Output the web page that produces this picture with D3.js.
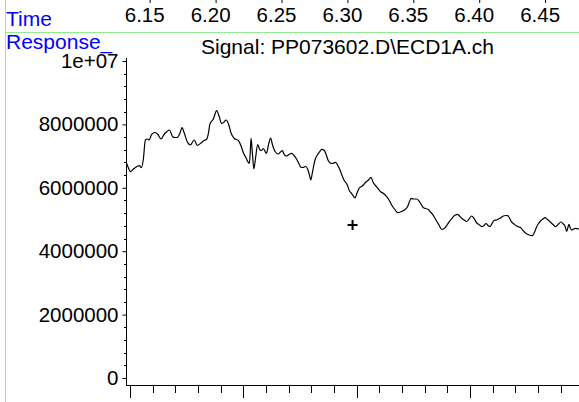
<!DOCTYPE html>
<html lang="en">
<head>
<meta charset="utf-8">
<title>ECD signal</title>
<script src="https://d3js.org/d3.v7.min.js"></script>
<style>
  body { margin: 0; background: #fff; }
  svg { display: block; font-family: "Liberation Sans", Arial, sans-serif; }
</style>
</head>
<body>
<div id="chart"></div>
<script>
// retention time (min) and detector response
var times = [6.1358, 6.1373, 6.1392, 6.1414, 6.1439, 6.1459, 6.1474, 6.1489, 6.1505, 6.1520,
  6.1533, 6.1553, 6.1578, 6.1599, 6.1624, 6.1649, 6.1669, 6.1688, 6.1712, 6.1730,
  6.1747, 6.1768, 6.1783, 6.1800, 6.1826, 6.1848, 6.1863, 6.1876, 6.1899, 6.1927,
  6.1950, 6.1970, 6.1984, 6.1995, 6.2021, 6.2046, 6.2064, 6.2084, 6.2102, 6.2117,
  6.2136, 6.2155, 6.2180, 6.2210, 6.2231, 6.2248, 6.2269, 6.2294, 6.2301, 6.2307,
  6.2318, 6.2328, 6.2341, 6.2357, 6.2375, 6.2386, 6.2400, 6.2423, 6.2439, 6.2455,
  6.2470, 6.2489, 6.2514, 6.2530, 6.2544, 6.2557, 6.2572, 6.2595, 6.2615, 6.2633,
  6.2652, 6.2668, 6.2686, 6.2701, 6.2720, 6.2737, 6.2750, 6.2760, 6.2773, 6.2792,
  6.2810, 6.2826, 6.2843, 6.2863, 6.2878, 6.2893, 6.2908, 6.2923, 6.2949, 6.2967,
  6.2982, 6.2997, 6.3012, 6.3037, 6.3052, 6.3073, 6.3096, 6.3111, 6.3128, 6.3145,
  6.3159, 6.3179, 6.3198, 6.3217, 6.3232, 6.3253, 6.3270, 6.3288, 6.3312, 6.3336,
  6.3354, 6.3374, 6.3395, 6.3420, 6.3441, 6.3470, 6.3495, 6.3508, 6.3521, 6.3539,
  6.3564, 6.3581, 6.3596, 6.3615, 6.3631, 6.3652, 6.3668, 6.3682, 6.3699, 6.3714,
  6.3733, 6.3753, 6.3767, 6.3778, 6.3794, 6.3811, 6.3828, 6.3841, 6.3857, 6.3872,
  6.3889, 6.3905, 6.3923, 6.3943, 6.3961, 6.3981, 6.3999, 6.4019, 6.4036, 6.4057,
  6.4074, 6.4090, 6.4105, 6.4120, 6.4135, 6.4150, 6.4169, 6.4196, 6.4221, 6.4238,
  6.4254, 6.4268, 6.4282, 6.4302, 6.4322, 6.4340, 6.4351, 6.4370, 6.4391, 6.4412,
  6.4441, 6.4458, 6.4474, 6.4488, 6.4503, 6.4522, 6.4537, 6.4556, 6.4575, 6.4598,
  6.4618, 6.4636, 6.4659, 6.4676, 6.4689, 6.4702, 6.4712, 6.4719, 6.4729, 6.4740,
  6.4753, 6.4770, 6.4790, 6.4803]

var response = [6823000, 6666000, 6508000, 6593000, 6666000, 6697000, 6634000, 6877000, 7508000, 7540000,
  7508000, 7688000, 7745000, 7688000, 7540000, 7697000, 7776000, 7823000, 7612000, 7587000,
  7587000, 7729000, 7896000, 7729000, 7423000, 7350000, 7445000, 7508000, 7334000, 7413000,
  7492000, 7530000, 7729000, 8013000, 8170000, 8432000, 8265000, 8028000, 8076000, 8139000,
  8013000, 7729000, 7555000, 7492000, 7319000, 7114000, 6940000, 6773000, 7129000, 7562000,
  7035000, 6593000, 6940000, 7366000, 7193000, 7177000, 7240000, 7088000, 7350000, 7571000,
  7350000, 7145000, 7066000, 7129000, 7170000, 7066000, 7003000, 7050000, 7088000, 7019000,
  6909000, 6782000, 6647000, 6640000, 6672000, 6584000, 6404000, 6246000, 6498000, 6877000,
  7035000, 7129000, 7215000, 7177000, 7035000, 6855000, 6782000, 6766000, 6805000, 6688000,
  6562000, 6388000, 6246000, 6088000, 5915000, 5804000, 5678000, 5836000, 5994000, 6041000,
  6088000, 6183000, 6246000, 6331000, 6183000, 6057000, 5978000, 5883000, 5820000, 5719000,
  5615000, 5458000, 5331000, 5215000, 5237000, 5300000, 5410000, 5552000, 5669000, 5647000,
  5647000, 5584000, 5489000, 5369000, 5347000, 5315000, 5237000, 5174000, 5063000, 4953000,
  4827000, 4691000, 4700000, 4741000, 4827000, 4931000, 5016000, 5088000, 5142000, 5164000,
  5110000, 5038000, 4984000, 4937000, 5016000, 5110000, 5032000, 4890000, 4842000, 4773000,
  4811000, 4874000, 4811000, 4773000, 4874000, 4969000, 4984000, 5038000, 5110000, 5126000,
  5120000, 5047000, 4931000, 4858000, 4795000, 4764000, 4748000, 4653000, 4565000, 4517000,
  4489000, 4606000, 4773000, 4874000, 4953000, 5016000, 5057000, 5000000, 4931000, 4842000,
  4773000, 4842000, 4921000, 4858000, 4795000, 4622000, 4764000, 4849000, 4732000, 4669000,
  4700000, 4723000, 4700000, 4700000]

var timeLabels = [6.15, 6.20, 6.25, 6.30, 6.35, 6.40, 6.45]
var yTickValues = [0, 2000000, 4000000, 6000000, 8000000, 10000000]
var yTickLabels = ["0", "2000000", "4000000", "6000000", "8000000", "1e+07"]
var marker = {t: 6.3077, v: 4826000}
var title = "Signal: PP073602.D\\ECD1A.ch"

var W = 579, H = 402
var plotLeft = 126, plotRight = 579, plotTop = 61, plotZero = 378, axisY = 385

var x = d3.scaleLinear().domain([6.13581, 6.47951]).range([plotLeft, plotRight])
var y = d3.scaleLinear().domain([0, 10000000]).range([plotZero, plotTop])

var svg = d3.select("#chart").append("svg")
  .attr("width", W).attr("height", H)

svg.append("rect").attr("width", W).attr("height", H).attr("fill", "#fff")

// green frame lines
svg.append("line").attr("x1", 5.5).attr("x2", 5.5).attr("y1", 0).attr("y2", H)
  .attr("stroke", "#90ee90").attr("stroke-width", 1)
svg.append("line").attr("x1", 5.5).attr("x2", W).attr("y1", 32.5).attr("y2", 32.5)
  .attr("stroke", "#90ee90").attr("stroke-width", 1)

// time ruler on top
svg.append("text").attr("x", 6).attr("y", 25.5).attr("fill", "#0000ff")
  .attr("font-size", 21).text("Time")
svg.selectAll(".tlab").data(timeLabels).enter().append("text")
  .attr("class", "tlab")
  .attr("x", function(d){ return x(d) })
  .attr("y", 21.5)
  .attr("text-anchor", "middle")
  .attr("font-size", 20.5)
  .text(function(d){ return d.toFixed(2) })
svg.selectAll(".ttick").data(timeLabels).enter().append("line")
  .attr("x1", function(d){ return x(d) + 5.5 }).attr("x2", function(d){ return x(d) + 5.5 })
  .attr("y1", 0).attr("y2", 3)
  .attr("stroke", "#000")

svg.append("text").attr("x", 6).attr("y", 49).attr("fill", "#0000ff")
  .attr("font-size", 21).text("Response_")
svg.append("text").attr("x", 201).attr("y", 53.5)
  .attr("font-size", 21).text(title)

// y axis
var yAxis = d3.axisLeft(y).tickValues(yTickValues).tickSize(4).tickPadding(4)
  .tickFormat(function(d, i){ return yTickLabels[i] })
var gy = svg.append("g").attr("transform", "translate(" + (plotLeft + 0.5) + ",0)").call(yAxis)
gy.select(".domain").remove()
gy.selectAll("text").attr("font-size", 20.5).attr("font-family", "Liberation Sans, Arial, sans-serif")
gy.selectAll("line").attr("stroke", "#000")
svg.append("line").attr("x1", plotLeft + 0.5).attr("x2", plotLeft + 0.5).attr("y1", 58).attr("y2", axisY)
  .attr("stroke", "#000")
var yMinor = d3.range(0, 10000001, 400000).filter(function(d){ return d % 2000000 !== 0 })
svg.selectAll(".ymin").data(yMinor).enter().append("line")
  .attr("x1", plotLeft - 2).attr("x2", plotLeft)
  .attr("y1", function(d){ return Math.round(y(d)) + 0.5 })
  .attr("y2", function(d){ return Math.round(y(d)) + 0.5 })
  .attr("stroke", "#000")

// bottom axis (unlabelled ticks)
svg.append("line").attr("x1", plotLeft).attr("x2", plotRight).attr("y1", axisY + 0.5).attr("y2", axisY + 0.5)
  .attr("stroke", "#000")
var bStart = 6.13885, bStep = 0.0172
var bTicks = d3.range(0, 21).map(function(i){ return {t: bStart + i * bStep, major: i % 5 === 0} })
  .filter(function(d){ return x(d.t) <= plotRight })
svg.selectAll(".btick").data(bTicks).enter().append("line")
  .attr("x1", function(d){ return Math.round(x(d.t)) + 0.5 })
  .attr("x2", function(d){ return Math.round(x(d.t)) + 0.5 })
  .attr("y1", axisY + 1)
  .attr("y2", function(d){ return d.major ? axisY + 13 : axisY + 8 })
  .attr("stroke", "#000")

// signal trace
var data = times.map(function(t, i){ return {t: t, v: response[i]} })
svg.append("clipPath").attr("id", "plotclip").append("rect")
  .attr("x", plotLeft + 1).attr("y", 0).attr("width", plotRight - plotLeft).attr("height", axisY)
var line = d3.line()
  .x(function(d){ return x(d.t) })
  .y(function(d){ return y(d.v) })
  .curve(d3.curveMonotoneX)
svg.append("path").datum(data)
  .attr("clip-path", "url(#plotclip)")
  .attr("d", line)
  .attr("fill", "none")
  .attr("stroke", "#000")
  .attr("stroke-width", 1.2)

// cursor marker
var mx = x(marker.t), my = y(marker.v)
svg.append("path")
  .attr("d", "M" + (mx - 5) + "," + my + "H" + (mx + 5) + "M" + mx + "," + (my - 5) + "V" + (my + 5))
  .attr("stroke", "#000").attr("stroke-width", 2).attr("fill", "none")
</script>
</body>
</html>
